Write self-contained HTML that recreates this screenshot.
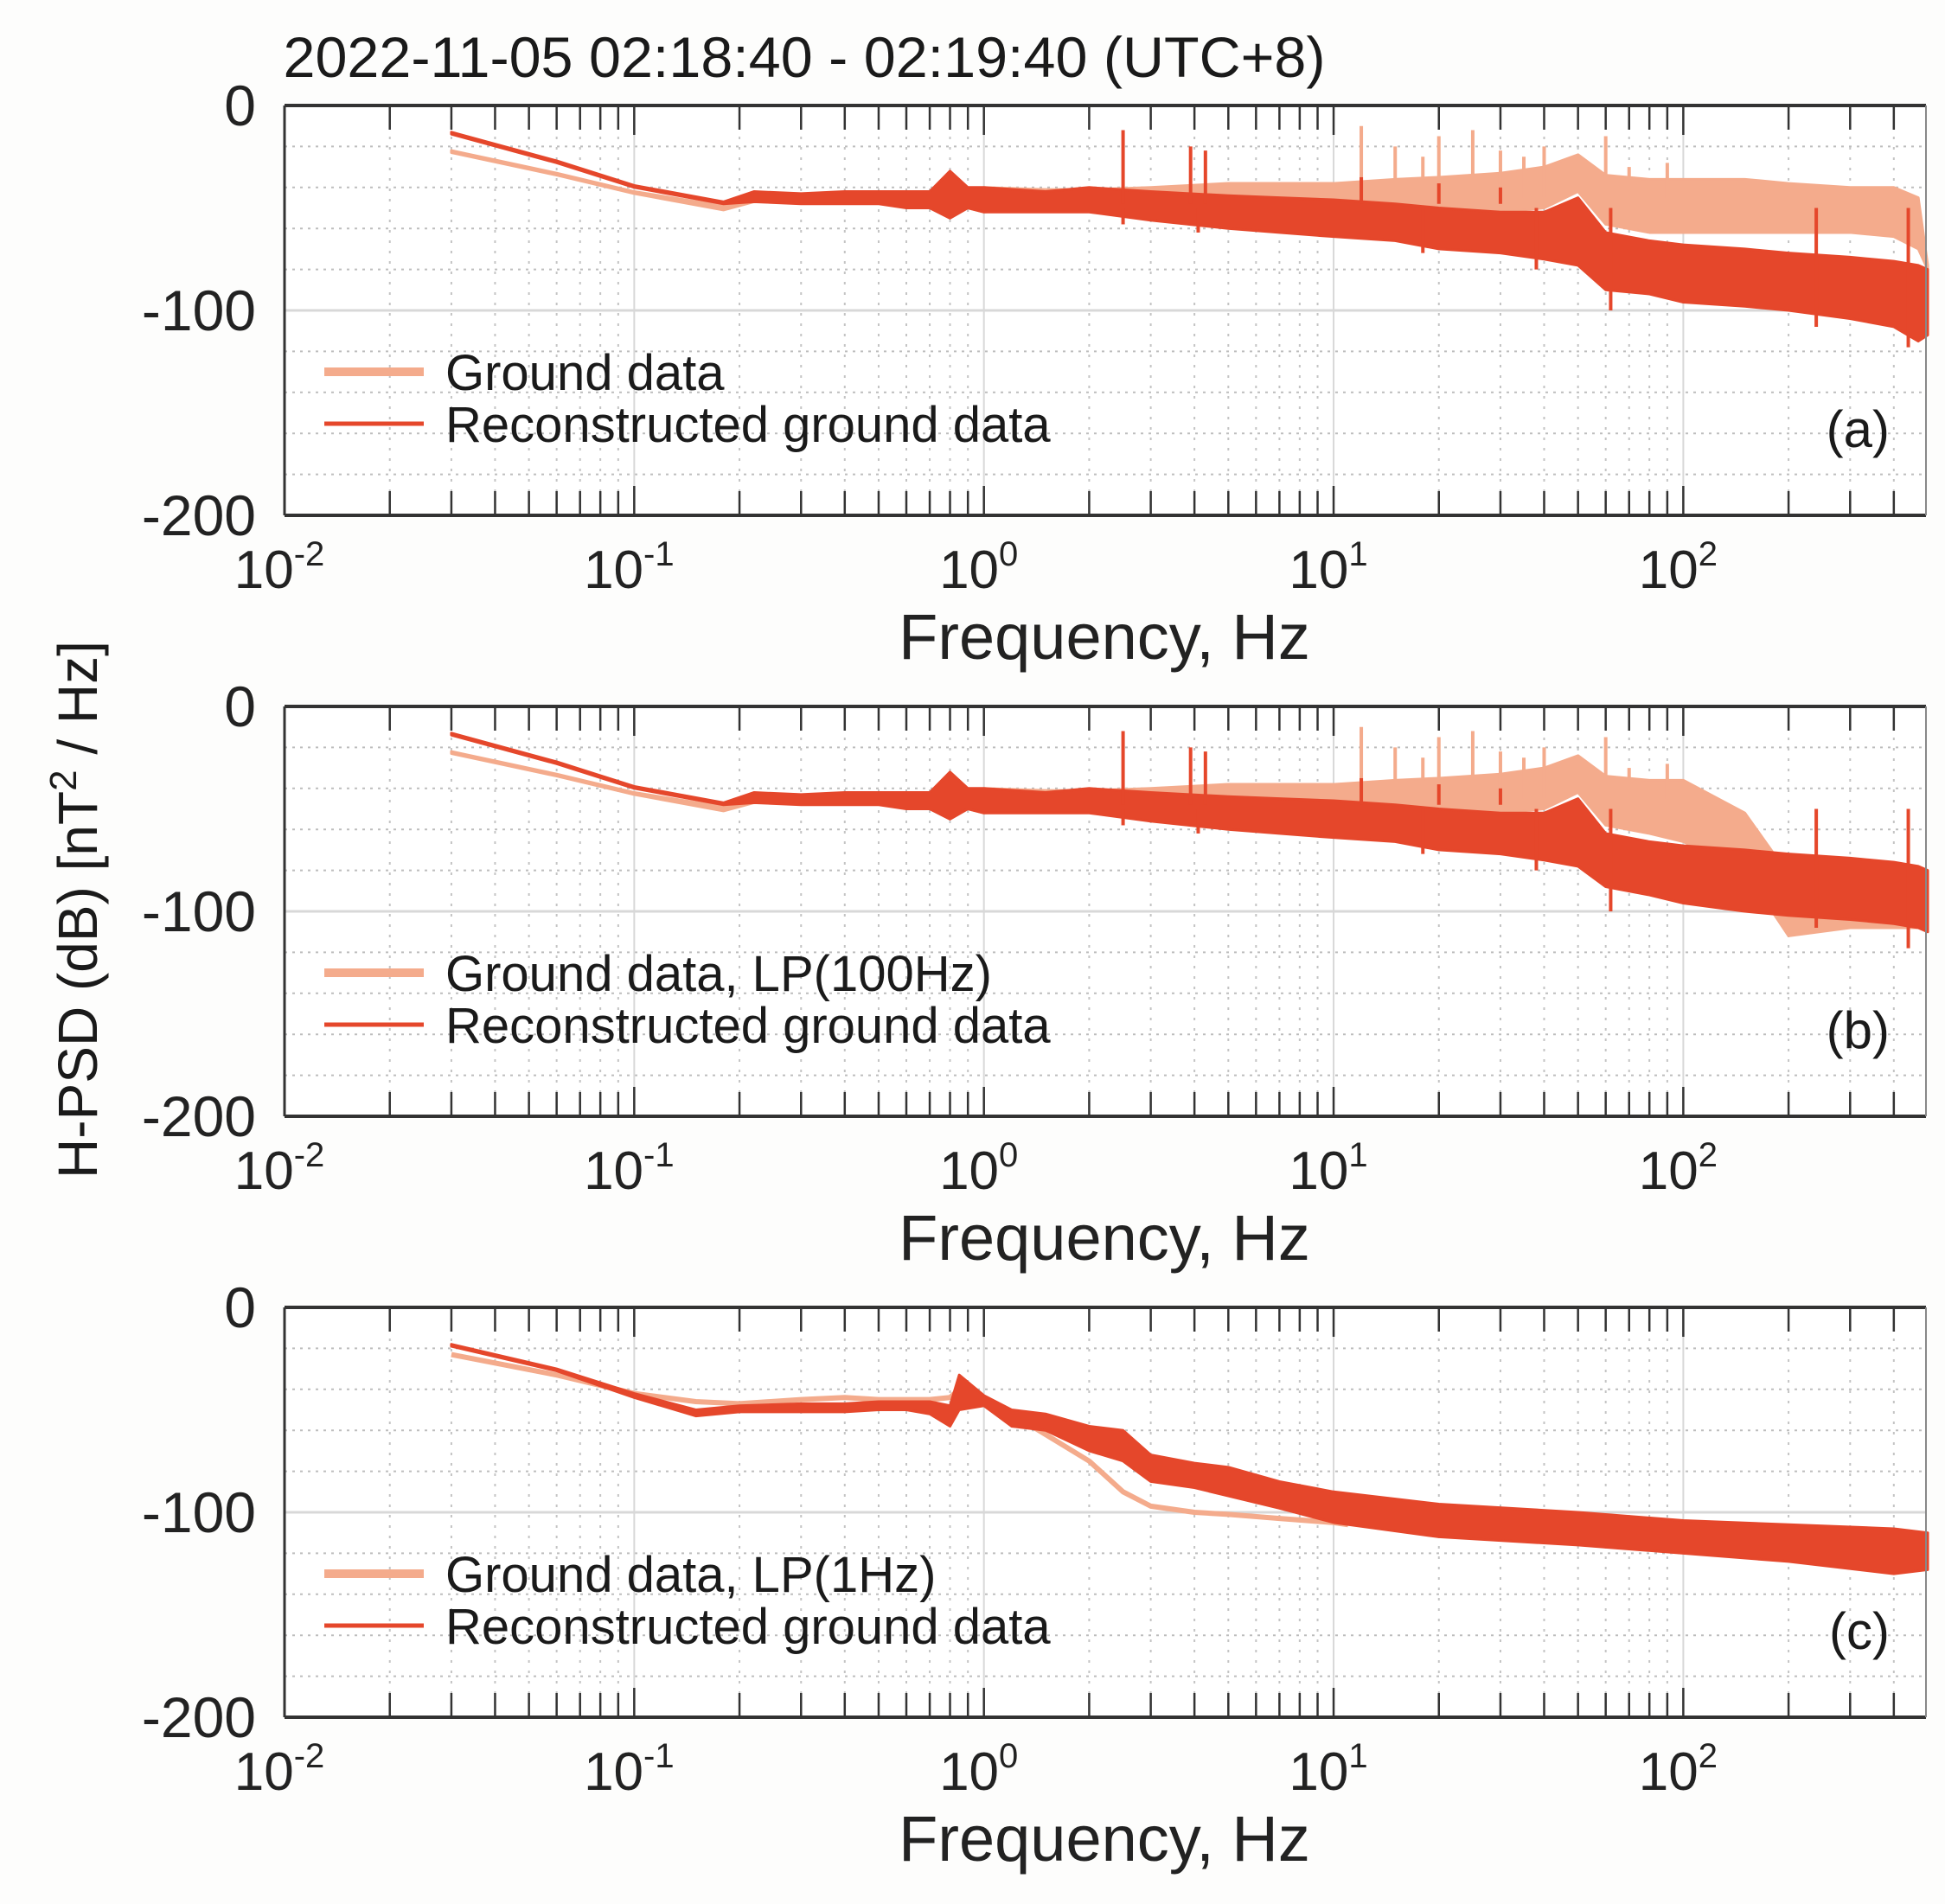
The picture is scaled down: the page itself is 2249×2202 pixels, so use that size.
<!DOCTYPE html>
<html><head><meta charset="utf-8"><style>
html,body{margin:0;padding:0;background:#fdfdfc;}
svg{display:block;font-family:"Liberation Sans",sans-serif;}
</style></head><body>
<svg id="fig" width="2249" height="2202" viewBox="0 0 2249 2202" xmlns="http://www.w3.org/2000/svg">
<rect width="2249" height="2202" fill="#fdfdfc"/>
<text x="930" y="89" font-size="66" text-anchor="middle" fill="#1a1a1a" textLength="1205" lengthAdjust="spacingAndGlyphs">2022-11-05 02:18:40 - 02:19:40 (UTC+8)</text>
<text transform="translate(112,1052) rotate(-90)" font-size="64" text-anchor="middle" fill="#1a1a1a">H-PSD (dB) [nT<tspan dy="-24" font-size="44">2</tspan><tspan dy="24"> / Hz]</tspan></text>
</svg>
<script>
// ---- data (frequency Hz, dB) ----
const panelLabels = ["(a)", "(b)", "(c)"];
const groundLegend = ["Ground data", "Ground data, LP(100Hz)", "Ground data, LP(1Hz)"];
const reconLegend = "Reconstructed ground data";
const yTicks = [0, -100, -200];
const xTickExps = [-2, -1, 0, 1, 2];

const freqAB = [0.03,0.06,0.1,0.18,0.22,0.3,0.4,0.5,0.6,0.7,0.8,0.9,1,1.5,2,3,5,7,10,15,20,30,40,50,60,80,100,150,200,300,400,470,500];
const groundAUpper = [-22,-33,-42,-49,-45,-44,-44,-43,-43,-44,-42,-42,-40,-41,-41,-40,-38,-38,-38,-36,-35,-33,-30,-24,-34,-36,-36,-36,-38,-40,-40,-45,-78];
const groundALower = [-23,-34,-43,-51,-47,-47,-47,-47,-47,-48,-50,-50,-52,-50,-50,-52,-52,-52,-52,-55,-55,-52,-50,-42,-58,-62,-62,-62,-62,-62,-64,-70,-80];
const reconAUpper = [-13,-27,-39,-47,-42,-43,-42,-42,-42,-42,-32,-40,-40,-42,-40,-42,-44,-45,-46,-48,-50,-52,-52,-45,-62,-66,-68,-70,-72,-74,-76,-78,-80];
const reconALower = [-14,-28,-40,-48,-47,-48,-48,-48,-50,-50,-55,-50,-52,-52,-52,-56,-60,-62,-64,-66,-70,-72,-75,-78,-90,-92,-96,-98,-100,-104,-108,-115,-112];
const groundBUpper = [-22,-33,-42,-49,-45,-44,-44,-43,-43,-44,-42,-42,-40,-41,-41,-40,-38,-38,-38,-36,-35,-33,-30,-24,-34,-36,-36,-52,-82,-96,-100,-102,-104];
const groundBLower = [-23,-34,-43,-51,-47,-47,-47,-47,-47,-48,-50,-50,-52,-50,-50,-52,-52,-52,-52,-55,-55,-52,-50,-42,-58,-62,-66,-80,-112,-108,-108,-108,-108];
const reconBUpper = reconAUpper;
const reconBLower = [-14,-28,-40,-48,-47,-48,-48,-48,-50,-50,-55,-50,-52,-52,-52,-56,-60,-62,-64,-66,-70,-72,-75,-78,-88,-92,-96,-100,-102,-104,-106,-108,-110];
const groundSpikeF = [12,15,18,20,25,30,35,40,60,70,90];
const groundSpikeV = [-10,-20,-25,-15,-12,-22,-25,-20,-15,-30,-28];
const reconSpikeF = [2.5,3.9,4.3,12,20,30];
const reconSpikeV = [-12,-20,-22,-35,-38,-40];
const reconDipF = [2.5,4.1,18,38,62,240,440];
const reconDipV = [-58,-62,-72,-80,-100,-108,-118];

const freqC = [0.03,0.06,0.1,0.15,0.2,0.3,0.4,0.5,0.6,0.7,0.8,0.85,1,1.2,1.5,2,2.5,3,4,5,7,10,11];
const groundC = [-23,-33,-42,-46,-47,-45,-44,-45,-45,-45,-44,-40,-45,-52,-62,-75,-90,-97,-100,-101,-103,-105,-106];
const freqCR = [0.03,0.06,0.1,0.15,0.2,0.3,0.4,0.5,0.6,0.7,0.8,0.85,1,1.2,1.5,2,2.5,3,4,5,7,10,20,50,100,200,400,500];
const reconCUpper = [-18,-30,-42,-50,-48,-47,-47,-46,-46,-46,-48,-33,-43,-50,-52,-58,-60,-72,-76,-78,-85,-90,-96,-100,-104,-106,-108,-110];
const reconCLower = [-19,-31,-44,-53,-51,-51,-51,-50,-50,-52,-58,-50,-48,-58,-60,-70,-75,-85,-88,-92,-98,-105,-112,-116,-120,-124,-130,-128];

const svg = document.getElementById('fig');
const NS = 'http://www.w3.org/2000/svg';
const L = 329, R = 2227, H = 474;
const tops = [122, 817, 1512];
const lxMin = -2, lxMax = 2.694;
const GC = '#f4ab8c', RC = '#e5472b';
function xs(f){ return L + (Math.log10(f) - lxMin) / (lxMax - lxMin) * (R - L); }
function mk(tag, attrs, parent){ const e = document.createElementNS(NS, tag); for (const k in attrs) e.setAttribute(k, attrs[k]); (parent||svg).appendChild(e); return e; }

function drawPanel(p){
  const T = tops[p];
  const ys = v => T + (-v) / 200 * H;
  const g = mk('g', {});
  
  
  mk('rect', {x:L, y:T, width:R-L, height:H, fill:'#ffffff'}, g);
  for (let v = -20; v > -200; v -= 20) {
    if (v === -100) mk('line', {x1:L, x2:R, y1:ys(v), y2:ys(v), stroke:'#d8d8d8', 'stroke-width':3}, g);
    else mk('line', {x1:L, x2:R, y1:ys(v), y2:ys(v), stroke:'#bdbdbd', 'stroke-width':2, 'stroke-dasharray':'3 6'}, g);
  }
  for (let e = -2; e <= 2; e++) {
    for (let m = 1; m <= 9; m++) {
      const f = m * Math.pow(10, e); const x = xs(f); if (x > R) break;
      if (m === 1) mk('line', {x1:x, x2:x, y1:T, y2:T+H, stroke:'#d8d8d8', 'stroke-width':2}, g);
      else mk('line', {x1:x, x2:x, y1:T, y2:T+H, stroke:'#c4c4c4', 'stroke-width':2, 'stroke-dasharray':'3 9'}, g);
      const tl = m === 1 ? 34 : 28;
      mk('line', {x1:x, x2:x, y1:T, y2:T+tl, stroke:'#333', 'stroke-width':2.5}, g);
      mk('line', {x1:x, x2:x, y1:T+H, y2:T+H-tl, stroke:'#333', 'stroke-width':2.5}, g);
    }
  }
  const band = (fr, up, lo, col, name) => {
    let pts = fr.map((f,i) => xs(f)+','+ys(up[i]));
    for (let i = fr.length-1; i >= 0; i--) pts.push(xs(fr[i])+','+ys(lo[i]));
    const el = mk('polygon', {points:pts.join(' '), fill:col, stroke:col, 'stroke-width':3, 'stroke-linejoin':'round'}, g);
    
    
  };
  const line = (fr, vals, col, w, name) => {
    const el = mk('polyline', {points:fr.map((f,i)=>xs(f)+','+ys(vals[i])).join(' '), fill:'none', stroke:col, 'stroke-width':w, 'stroke-linejoin':'round'}, g);
    
    
  };
  const spikes = (fs, vs, base, col, name) => {
    fs.forEach((f,i) => {
      const el = mk('line', {x1:xs(f), x2:xs(f), y1:ys(vs[i]), y2:ys(base), stroke:col, 'stroke-width':4}, g);
      
      
    });
  };
  if (p < 2) {
    band(freqAB, p===0?groundAUpper:groundBUpper, p===0?groundALower:groundBLower, GC, 'ground-series');
    spikes(groundSpikeF, groundSpikeV, -45, GC, 'ground-spike');
    band(freqAB, p===0?reconAUpper:reconBUpper, p===0?reconALower:reconBLower, RC, 'reconstructed-series');
    spikes(reconSpikeF, reconSpikeV, -48, RC, 'reconstructed-spike');
    spikes(reconDipF, reconDipV, -50, RC, 'reconstructed-dip');
  } else {
    line(freqC, groundC, GC, 6, 'ground-series');
    band(freqCR, reconCUpper, reconCLower, RC, 'reconstructed-series');
  }
  mk('line', {x1:L, x2:R, y1:T, y2:T, stroke:'#333', 'stroke-width':4}, g);
  mk('line', {x1:L, x2:R, y1:T+H, y2:T+H, stroke:'#333', 'stroke-width':4}, g);
  mk('line', {x1:L, x2:L, y1:T, y2:T+H, stroke:'#333', 'stroke-width':3}, g);
  mk('line', {x1:R, x2:R, y1:T, y2:T+H, stroke:'#888', 'stroke-width':2}, g);
  yTicks.forEach(v => {
    const t = mk('text', {x:296, y:ys(v)+23, 'font-size':66, 'text-anchor':'end', fill:'#222'}, g);
    t.textContent = v;
    
    
  });
  xTickExps.forEach(e => {
    const t = mk('text', {x:xs(Math.pow(10,e))-6, y:T+558, 'font-size':62, 'text-anchor':'middle', fill:'#222'}, g);
    
    
    t.appendChild(document.createTextNode('10'));
    const s = mk('tspan', {dy:-26, 'font-size':40}, t); s.textContent = e;
  });
  const xl = mk('text', {x:1277, y:T+640, 'font-size':74, 'text-anchor':'middle', fill:'#222'}, g);
  xl.textContent = 'Frequency, Hz';
  
  
  const lg = mk('g', {}, g);
  
  
  mk('line', {x1:375, x2:490, y1:T+308, y2:T+308, stroke:GC, 'stroke-width':10}, lg);
  mk('line', {x1:375, x2:490, y1:T+368, y2:T+368, stroke:RC, 'stroke-width':5}, lg);
  const t1 = mk('text', {x:515, y:T+329, 'font-size':58, fill:'#1a1a1a'}, lg); t1.textContent = groundLegend[p];
  const t2 = mk('text', {x:515, y:T+389, 'font-size':58, fill:'#1a1a1a'}, lg); t2.textContent = reconLegend;
  const pl = mk('text', {x:2185, y:T+395, 'font-size':60, 'text-anchor':'end', fill:'#1a1a1a'}, g);
  pl.textContent = panelLabels[p];
  
  
}
[0,1,2].forEach(drawPanel);
</script>
</body></html>
